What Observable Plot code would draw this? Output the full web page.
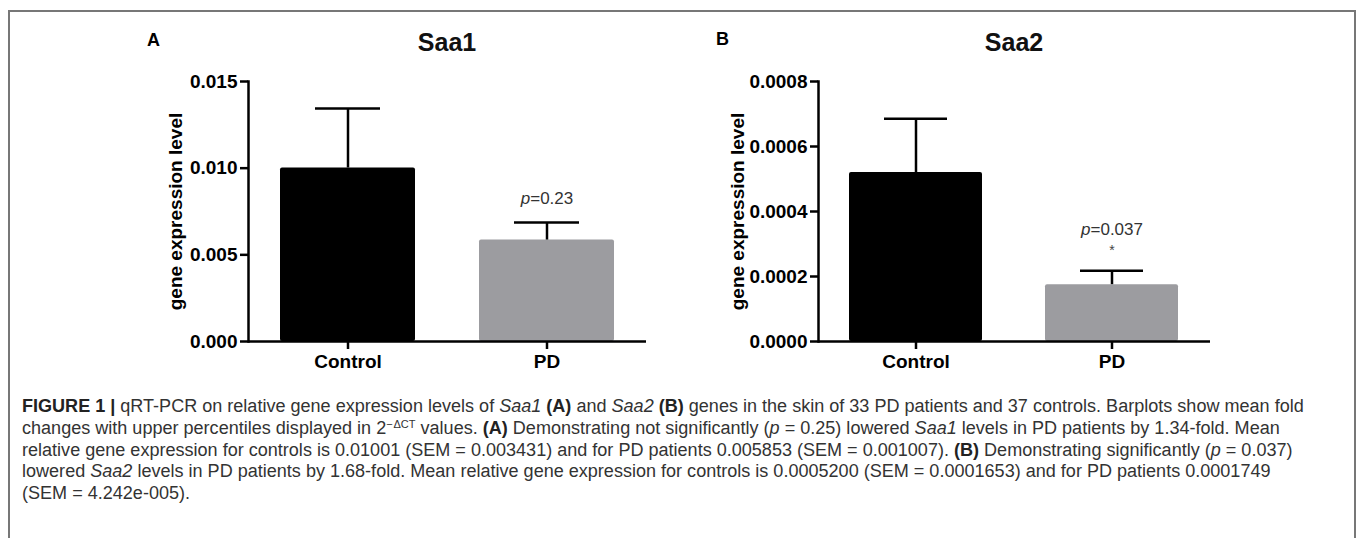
<!DOCTYPE html>
<html><head><meta charset="utf-8">
<script src="https://cdn.jsdelivr.net/npm/d3@7"></script>
<script src="https://cdn.jsdelivr.net/npm/@observablehq/plot@0.6"></script>
<style>
html,body{margin:0;padding:0;background:#fff;width:1357px;height:538px;overflow:hidden;font-family:"Liberation Sans",Arial,sans-serif;}
#box{position:absolute;left:8px;top:10px;width:1348px;height:600px;border:2px solid #777;box-sizing:border-box;}
.plab{position:absolute;font-weight:bold;font-size:18px;line-height:18px;color:#000;}
.ttl{position:absolute;font-weight:bold;font-size:25px;line-height:26px;color:#111;transform:translateX(-50%);white-space:nowrap;}
#caption{position:absolute;left:22px;top:396px;font-size:16px;line-height:21.8px;color:#333;white-space:nowrap;}
#caption b{color:#222;}
#caption sup{font-size:11px;line-height:0;vertical-align:6px;}
svg.panel{position:absolute;}
</style></head><body>
<div id="box"></div>
<div class="plab" style="left:147px;top:31px">A</div>
<div class="ttl" style="left:447px;top:29px">Saa1</div>
<div class="plab" style="left:716px;top:30px">B</div>
<div class="ttl" style="left:1014px;top:29px">Saa2</div>
<div id="caption"><span id="l1"><b>FIGURE 1 |</b> qRT-PCR on relative gene expression levels of <i>Saa1</i> <b>(A)</b> and <i>Saa2</i> <b>(B)</b> genes in the skin of 33 PD patients and 37 controls. Barplots show mean fold</span><br>changes with upper percentiles displayed in 2<sup>−&#8202;ΔCT</sup> values. <b>(A)</b> Demonstrating not significantly (<i>p</i> = 0.25) lowered <i>Saa1</i> levels in PD patients by 1.34-fold. Mean<br>relative gene expression for controls is 0.01001 (SEM = 0.003431) and for PD patients 0.005853 (SEM = 0.001007). <b>(B)</b> Demonstrating significantly (<i>p</i> = 0.037)<br>lowered <i>Saa2</i> levels in PD patients by 1.68-fold. Mean relative gene expression for controls is 0.0005200 (SEM = 0.0001653) and for PD patients 0.0001749<br>(SEM = 4.242e-005).</div>
<script>
// ---- data ----
const groups = ["Control", "PD"];
const saa1Mean = [0.01001, 0.005853];
const saa1Sem = [0.003431, 0.001007];
const saa2Mean = [0.0005200, 0.0001749];
const saa2Sem = [0.0001653, 0.00004242];
const saa1Ticks = [0, 0.005, 0.010, 0.015];
const saa2Ticks = [0, 0.0002, 0.0004, 0.0006, 0.0008];
const saa1Max = 0.015;
const saa2Max = 0.0008;
const barColors = ["#000000", "#9c9ca0"];
const saa1P = ["", "p=0.23"];
const saa2P = ["", "p=0.037"];
const saa2Star = ["", "*"];
const yLabel = "gene expression level";

function panel(o) {
  const data = groups.map((g, i) => ({
    group: g, mean: o.means[i], upper: o.means[i] + o.sems[i],
    p: o.p[i], star: o.star ? o.star[i] : "", color: barColors[i]
  }));
  const svg = Plot.plot({
    width: o.width, height: 351,
    marginTop: 61, marginBottom: 30, marginLeft: 148, marginRight: 20,
    style: {fontFamily: "'Liberation Sans', Arial, sans-serif", fontSize: "19px", fontWeight: "bold", color: "#000", background: "transparent", overflow: "visible"},
    x: {domain: groups, paddingInner: 0.32, paddingOuter: 0.16, axis: null},
    y: {domain: [0, o.max], axis: null},
    color: {type: "identity"},
    marks: [
      Plot.barY(data, {x: "group", y: "mean", fill: "color", rx: 2}),
      Plot.ruleX(data, {x: "group", y1: "mean", y2: "upper", stroke: "#000", strokeWidth: 2.5}),
      Plot.tickY(data, {x: "group", y: "upper", stroke: "#000", strokeWidth: 2.5, insetLeft: 35, insetRight: 35}),
      Plot.text(data, {x: "group", y: "upper", text: "p", dy: o.pDy, fontSize: 17, fontWeight: "normal", fill: "#333"}),
      Plot.text(data, {x: "group", y: "upper", text: "star", dy: -20, fontSize: 14, fontWeight: "normal", fill: "#444"}),
      Plot.axisY({ticks: o.ticks, tickFormat: o.fmt, tickSize: 8, tickPadding: 3, strokeWidth: 2.5, fontSize: 19,
        label: yLabel, labelAnchor: "center", labelArrow: "none", labelOffset: o.labelOffset}),
      Plot.axisX({tickSize: 8, tickPadding: 5, strokeWidth: 2.5, fontSize: 19, label: null}),
      Plot.frame({anchor: "left", strokeWidth: 2.5}),
      Plot.ruleY([0], {strokeWidth: 2.5})
    ]
  });
  svg.classList.add("panel");
  svg.style.left = o.left + "px";
  svg.style.top = "20px";
  svg.querySelectorAll("text").forEach(t => {
    const s = t.textContent;
    if (s.startsWith("p=")) {
      t.textContent = "";
      const a = document.createElementNS("http://www.w3.org/2000/svg", "tspan");
      a.setAttribute("font-style", "italic"); a.textContent = "p";
      const b = document.createElementNS("http://www.w3.org/2000/svg", "tspan");
      b.textContent = s.slice(1);
      t.appendChild(a); t.appendChild(b);
    }
  });
  document.body.appendChild(svg);
}

panel({means: saa1Mean, sems: saa1Sem, ticks: saa1Ticks, max: saa1Max, fmt: d3.format(".3f"),
  p: saa1P, pDy: -24, width: 566, left: 100, labelOffset: 80});
panel({means: saa2Mean, sems: saa2Sem, ticks: saa2Ticks, max: saa2Max, fmt: d3.format(".4f"),
  p: saa2P, star: saa2Star, pDy: -41, width: 560, left: 670, labelOffset: 88});

// fit caption width to the reference line length
const l1 = document.getElementById("l1");
const cap = document.getElementById("caption");
const w = l1.getBoundingClientRect().width;
cap.style.fontSize = (16 * 1283 / w).toFixed(2) + "px";
</script>
</body></html>
